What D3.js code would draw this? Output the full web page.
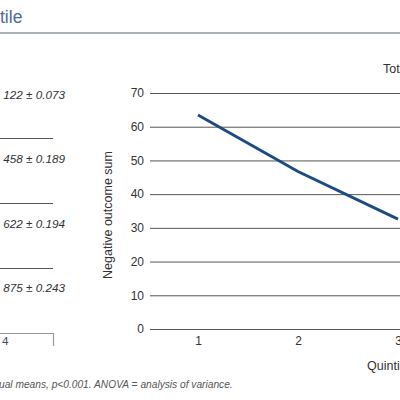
<!DOCTYPE html>
<html><head><meta charset="utf-8">
<script src="https://cdn.jsdelivr.net/npm/d3@7"></script>
<style>
html,body{margin:0;padding:0;background:#fff;overflow:hidden;}
svg{display:block;font-family:"Liberation Sans",Arial,sans-serif;}
</style></head>
<body><svg id="c" width="400" height="400"></svg>
<script>
// Data
const quintiles = ["1","2","3","4","5"];
const outcomeSum = [63.5, 46.7, 32.6];
const yTicks = [0,10,20,30,40,50,60,70];
const tableRows = ["122 ± 0.073","458 ± 0.189","622 ± 0.194","875 ± 0.243"];
const titleText = "tile";
const yLabel = "Negative outcome sum";
const xLabel = "Quintile";
const seriesLabel = "Total";
const footnote = "ual means, p<0.001. ANOVA = analysis of variance.";

const svg = d3.select("#c");

// Title and rule
svg.append("text").attr("x",0).attr("y",23).attr("font-size","17.5px")
  .attr("fill","#4f6b95").text(titleText);
svg.append("line").attr("x1",0).attr("x2",400).attr("y1",33).attr("y2",33)
  .attr("stroke","#a9b1bd").attr("stroke-width",2);

// Left table fragment
const rowY = d3.scalePoint().domain(d3.range(tableRows.length)).range([99, 292]);
const tbl = svg.append("g").attr("class","table");
tableRows.forEach((d,i)=>{
  tbl.append("text").attr("text-anchor","end").attr("x",65).attr("y",rowY(i))
    .attr("font-size","11.7px").attr("font-style","italic").attr("fill","#333").text(d);
});
const sepY = [138, 203, 268];
sepY.forEach(v=>{
  tbl.append("line").attr("x1",0).attr("x2",53).attr("y1",v+0.5).attr("y2",v+0.5)
    .attr("stroke","#555").attr("stroke-width",1);
});
tbl.append("path").attr("d","M0,333.5H53.5V346").attr("fill","none")
  .attr("stroke","#999").attr("stroke-width",1.2);
tbl.append("text").attr("x",2).attr("y",345).attr("font-size","11.7px")
  .attr("fill","#3d4a66").text("4");

// Chart
const x = d3.scalePoint().domain(quintiles).range([198, 598]);
const y = d3.scaleLinear().domain([0,70]).range([329, 93]);

const yAxis = d3.axisLeft(y).tickValues(yTicks).tickSize(-500).tickPadding(6).tickFormat(d3.format("d"));
const gy = svg.append("g").attr("transform","translate(150,0)").call(yAxis);
gy.select(".domain").remove();
gy.selectAll(".tick line").attr("stroke","#555").attr("stroke-width",1);
gy.selectAll(".tick text").attr("font-size","12px").attr("fill","#333")
  .attr("font-family","Liberation Sans, Arial, sans-serif");

const xAxis = d3.axisBottom(x).tickSize(0).tickPadding(7);
const gx = svg.append("g").attr("transform","translate(0,329)").call(xAxis);
gx.select(".domain").remove();
gx.selectAll(".tick text").attr("font-size","12px").attr("fill","#333")
  .attr("font-family","Liberation Sans, Arial, sans-serif");

const line = d3.line().x((d,i)=>x(quintiles[i])).y(d=>y(d));
svg.append("path").datum(outcomeSum).attr("d",line).attr("fill","none")
  .attr("stroke","#1c4b80").attr("stroke-width",2.9);

svg.append("text").attr("transform","translate(112,215) rotate(-90)")
  .attr("text-anchor","middle").attr("font-size","12.5px").attr("fill","#333").text(yLabel);
svg.append("text").attr("x",367).attr("y",370).attr("font-size","12.5px")
  .attr("fill","#333").text(xLabel);
svg.append("text").attr("x",383).attr("y",73).attr("font-size","12.5px")
  .attr("fill","#333").text(seriesLabel);

svg.append("text").attr("x",-1).attr("y",388).attr("font-size","10.2px")
  .attr("font-style","italic").attr("fill","#555").text(footnote);
</script></body></html>
